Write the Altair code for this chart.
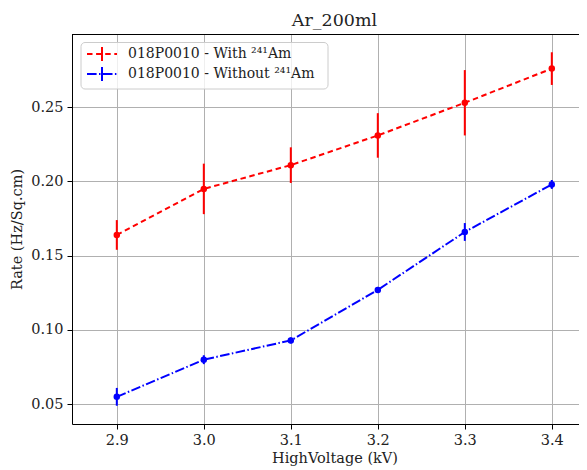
import altair as alt
import pandas as pd

hv = [2.9, 3.0, 3.1, 3.2, 3.3, 3.4]
rate_with = [0.164, 0.195, 0.211, 0.231, 0.253, 0.276]
err_with = [0.010, 0.017, 0.012, 0.015, 0.022, 0.011]
rate_without = [0.055, 0.080, 0.093, 0.127, 0.166, 0.198]
err_without = [0.006, 0.003, 0.002, 0.002, 0.006, 0.003]
series_names = ["018P0010 - With \u00b2\u2074\u00b9Am", "018P0010 - Without \u00b2\u2074\u00b9Am"]
series_colors = ["#ff0000", "#0000ff"]
series_dash = [[5.5, 3.6], [9.6, 2.4, 1.5, 2.4]]

rows = []
for i, x in enumerate(hv):
    rows.append({"hv": x, "rate": rate_with[i], "lo": rate_with[i] - err_with[i],
                 "hi": rate_with[i] + err_with[i], "series": series_names[0]})
    rows.append({"hv": x, "rate": rate_without[i], "lo": rate_without[i] - err_without[i],
                 "hi": rate_without[i] + err_without[i], "series": series_names[1]})
df = pd.DataFrame(rows)

FONT = "DejaVu Serif"
W, H = 507, 390
FULL_W = 525  # width of the original axes (partly outside the picture)

xscale = alt.Scale(domain=[2.8485, 2.8485 + W / 870.0], nice=False, zero=False)
yscale = alt.Scale(domain=[0.0367, 0.2993], nice=False, zero=False)
color = alt.Color("series:N", scale=alt.Scale(domain=series_names, range=series_colors), legend=None)

x_enc = alt.X("hv:Q", scale=xscale,
              axis=alt.Axis(values=hv, format=".1f", title="HighVoltage (kV)",
                            titleX=FULL_W / 2, titlePadding=5))
y_enc = alt.Y("rate:Q", scale=yscale,
              axis=alt.Axis(values=[0.05, 0.10, 0.15, 0.20, 0.25], format=".2f",
                            title="Rate (Hz/Sq.cm)", titlePadding=6))

base = alt.Chart(df)

errs = base.mark_rule(strokeWidth=2).encode(
    x=x_enc, y=alt.Y("lo:Q", scale=yscale), y2="hi:Q", color=color)

lines = base.mark_line(strokeWidth=2).encode(
    x=x_enc, y=y_enc, color=color,
    strokeDash=alt.StrokeDash("series:N", scale=alt.Scale(domain=series_names, range=series_dash), legend=None))

pts = base.mark_circle(size=42, opacity=1).encode(x=x_enc, y=y_enc, color=color)

one = pd.DataFrame({"a": [0]})
top_frame = alt.Chart(one).mark_rule(color="black", strokeWidth=1).encode(
    x=alt.value(0), x2=alt.value(W), y=alt.value(0.5), y2=alt.value(0.5))

# legend (drawn manually)
leg_box = alt.Chart(one).mark_rect(
    fill="white", fillOpacity=0.8, stroke="#cccccc", strokeWidth=1, cornerRadius=4
).encode(x=alt.value(9), x2=alt.value(256), y=alt.value(8.5), y2=alt.value(55))

leg_layers = [leg_box]
row_y = [20, 40]
for i, name in enumerate(series_names):
    d = pd.DataFrame({"label": [name]})
    leg_layers.append(alt.Chart(d).mark_rule(color=series_colors[i], strokeWidth=2,
                                             strokeDash=series_dash[i]).encode(
        x=alt.value(15), x2=alt.value(45), y=alt.value(row_y[i]), y2=alt.value(row_y[i])))
    leg_layers.append(alt.Chart(d).mark_rule(color=series_colors[i], strokeWidth=2).encode(
        x=alt.value(30), x2=alt.value(30), y=alt.value(row_y[i] - 7), y2=alt.value(row_y[i] + 7)))
    leg_layers.append(alt.Chart(d).mark_text(align="left", baseline="middle", font=FONT,
                                             fontSize=14, color="#222222").encode(
        x=alt.value(56), y=alt.value(row_y[i]), text="label:N"))

chart = alt.layer(errs, lines, pts, top_frame, *leg_layers).properties(
    width=W, height=H,
    title=alt.TitleParams("Ar_200ml", font=FONT, fontSize=17.5, fontWeight="normal",
                          anchor="middle", offset=5, dx=(FULL_W - W) / 2, color="#222222"),
    autosize=alt.AutoSizeParams(type="none"),
    padding={"left": 64, "top": 26, "right": 0, "bottom": 50},
).configure_view(strokeWidth=0).configure_axis(
    labelFont=FONT, labelFontSize=14.5, labelColor="#222222",
    titleFont=FONT, titleFontSize=14.5, titleFontWeight="normal", titleColor="#222222",
    gridColor="#b0b0b0", gridWidth=1, tickColor="black", tickSize=5, tickWidth=1,
    domainColor="black", domainWidth=1, labelPadding=4,
)

chart.save("out.html", embed_options={"renderer": "svg", "actions": False})
